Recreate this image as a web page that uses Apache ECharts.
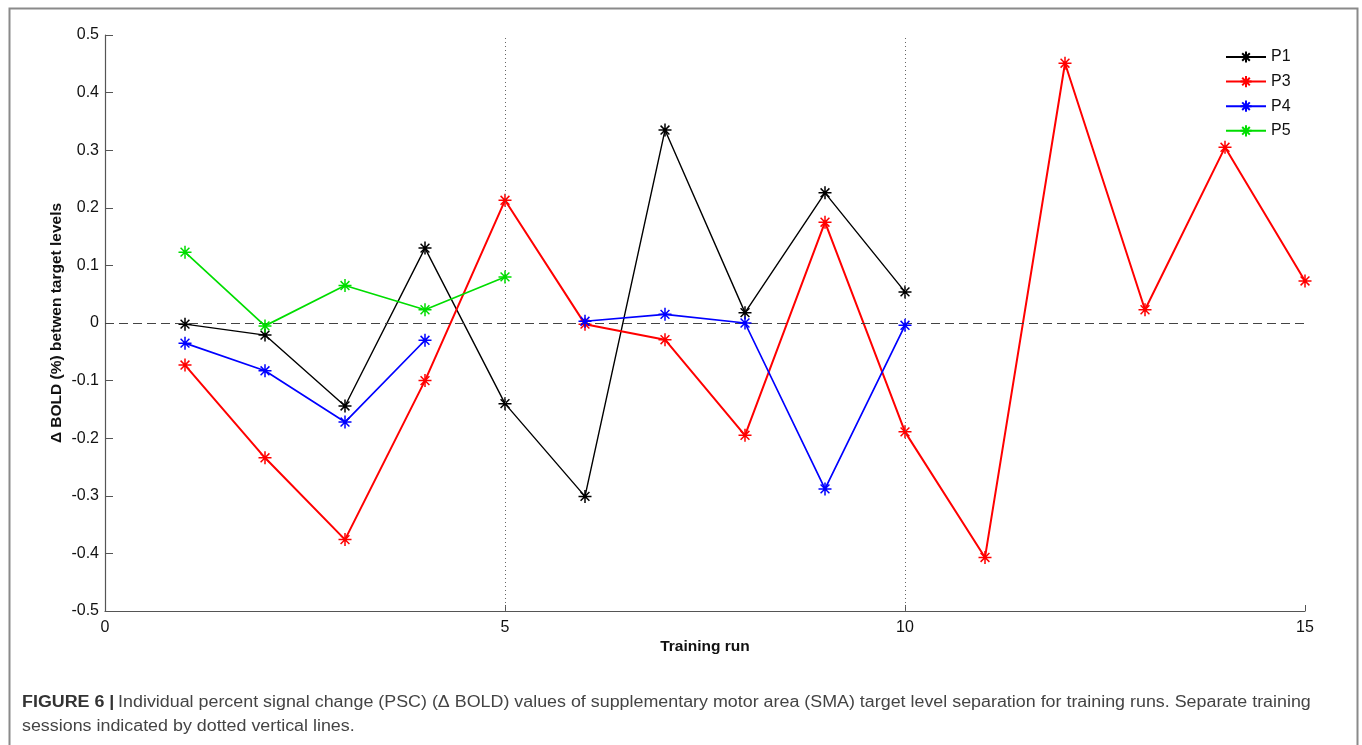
<!DOCTYPE html>
<html>
<head>
<meta charset="utf-8">
<script src="https://cdn.jsdelivr.net/npm/echarts@6/dist/echarts.min.js"></script>
<style>
html,body{margin:0;padding:0;background:#fff;}
#chart{width:1362px;height:745px;}
</style>
</head>
<body>
<div id="chart"></div>
<script>
// ---- data ----
const runsP1 = [1, 2, 3, 4, 5, 6, 7, 8, 9, 10];
const valuesP1 = [-0.002, -0.021, -0.144, 0.130, -0.140, -0.301, 0.335, 0.018, 0.226, 0.054];
const runsP3 = [1, 2, 3, 4, 5, 6, 7, 8, 9, 10, 11, 12, 13, 14, 15];
const valuesP3 = [-0.073, -0.234, -0.376, -0.100, 0.213, -0.002, -0.029, -0.195, 0.175, -0.189, -0.407, 0.451, 0.023, 0.305, 0.073];
const runsP4 = [1, 2, 3, 4, 5, 6, 7, 8, 9, 10];
const valuesP4 = [-0.035, -0.083, -0.172, -0.030, null, 0.003, 0.015, 0.000, -0.288, -0.004];
const runsP5 = [1, 2, 3, 4, 5];
const valuesP5 = [0.123, -0.005, 0.065, 0.023, 0.080];
const seriesNames = ['P1', 'P3', 'P4', 'P5'];
const seriesColors = ['#000000', '#ff0000', '#0000ff', '#00dd00'];
const sessionBreaks = [5, 10];
const xTicks = [0, 5, 10, 15];
const yTickLabels = ['-0.5','-0.4','-0.3','-0.2','-0.1','0','0.1','0.2','0.3','0.4','0.5'];

const captionBold = 'FIGURE 6 |';
const captionLine1 = 'Individual percent signal change (PSC) (Δ BOLD) values of supplementary motor area (SMA) target level separation for training runs. Separate training';
const captionLine2 = 'sessions indicated by dotted vertical lines.';

const star = 'path://M5 0 L5 10 M0 5 L10 5 M1.6 1.6 L8.4 8.4 M1.6 8.4 L8.4 1.6';

function pairs(xs, ys) { return xs.map((x, i) => [x, ys[i]]); }
const allRuns = [runsP1, runsP3, runsP4, runsP5];
const allVals = [valuesP1, valuesP3, valuesP4, valuesP5];

const series = seriesNames.map((name, i) => ({
  name: name,
  type: 'line',
  data: pairs(allRuns[i], allVals[i]),
  connectNulls: false,
  symbol: star,
  symbolSize: 13,
  showAllSymbol: true,
  lineStyle: { color: seriesColors[i], width: i === 1 ? 2 : (i === 0 ? 1.4 : 1.7) },
  itemStyle: { color: seriesColors[i], borderColor: seriesColors[i], borderWidth: 1.5 },
  emphasis: { disabled: true },
  z: 3 + i
}));

series[0].markLine = {
  silent: true,
  symbol: 'none',
  label: { show: false },
  animation: false,
  data: [
    ...sessionBreaks.map(v => ({ xAxis: v, lineStyle: { type: [1, 3], color: '#666', width: 1 } })),
    [{ coord: [0, 0], lineStyle: { type: [9, 5], color: '#444', width: 1.2 } }, { coord: [15, 0] }]
  ]
};

// fit caption width like the reference (condensed font)
const cv = document.createElement('canvas').getContext('2d');
cv.font = 'bold 16px "Liberation Sans"';
const wB = cv.measureText(captionBold + ' ').width;
cv.font = '16px "Liberation Sans"';
const wR = cv.measureText(captionLine1).width;
const capScale = 1290 / (wB + wR);

const chart = echarts.init(document.getElementById('chart'));
chart.setOption({
  animation: false,
  backgroundColor: '#ffffff',
  grid: { left: 105, right: 57, top: 35, bottom: 134 },
  legend: {
    orient: 'vertical',
    left: 1220,
    top: 44,
    itemWidth: 40,
    itemHeight: 14,
    itemGap: 8.6,
    data: seriesNames,
    textStyle: { fontSize: 16, color: '#111', fontFamily: 'Liberation Sans' }
  },
  xAxis: {
    type: 'value',
    min: 0,
    max: 15,
    interval: 5,
    name: 'Training run',
    nameLocation: 'middle',
    nameGap: 28,
    nameMoveOverlap: false,
    nameTextStyle: { fontSize: 15.5, fontWeight: 'bold', color: '#111', fontFamily: 'Liberation Sans' },
    splitLine: { show: false },
    axisLine: { onZero: false, lineStyle: { color: '#555', width: 1.2 } },
    axisTick: { inside: true, length: 6, lineStyle: { color: '#555' } },
    axisLabel: { fontSize: 16, color: '#111', margin: 9, fontFamily: 'Liberation Sans',
      formatter: v => xTicks.includes(v) ? String(v) : '' }
  },
  yAxis: {
    type: 'value',
    min: -0.5,
    max: 0.5,
    interval: 0.1,
    name: 'Δ BOLD (%) betwen target levels',
    nameLocation: 'middle',
    nameGap: 40,
    nameMoveOverlap: false,
    nameTextStyle: { fontSize: 15.5, fontWeight: 'bold', color: '#111', fontFamily: 'Liberation Sans' },
    splitLine: { show: false },
    axisLine: { lineStyle: { color: '#555', width: 1.2 } },
    axisTick: { inside: true, length: 8, lineStyle: { color: '#555' } },
    axisLabel: { fontSize: 16, color: '#111', margin: 6, fontFamily: 'Liberation Sans',
      formatter: v => yTickLabels[Math.round((v + 0.5) * 10)] }
  },
  series: series,
  graphic: [
    { type: 'rect', left: 7, top: 6, silent: true,
      shape: { width: 1348, height: 760 },
      style: { fill: 'none', stroke: '#8a8a8a', lineWidth: 2 } },
    { type: 'text', x: 22, y: 691, scaleX: capScale, silent: true,
      style: {
        text: '{b|' + captionBold + '} {r|' + captionLine1 + '}\n{r|' + captionLine2 + '}',
        rich: {
          b: { fontSize: 16, fontWeight: 'bold', fill: '#333', fontFamily: 'Liberation Sans', lineHeight: 24 },
          r: { fontSize: 16, fill: '#444', fontFamily: 'Liberation Sans', lineHeight: 24 }
        }
      } }
  ]
});
</script>
</body>
</html>
